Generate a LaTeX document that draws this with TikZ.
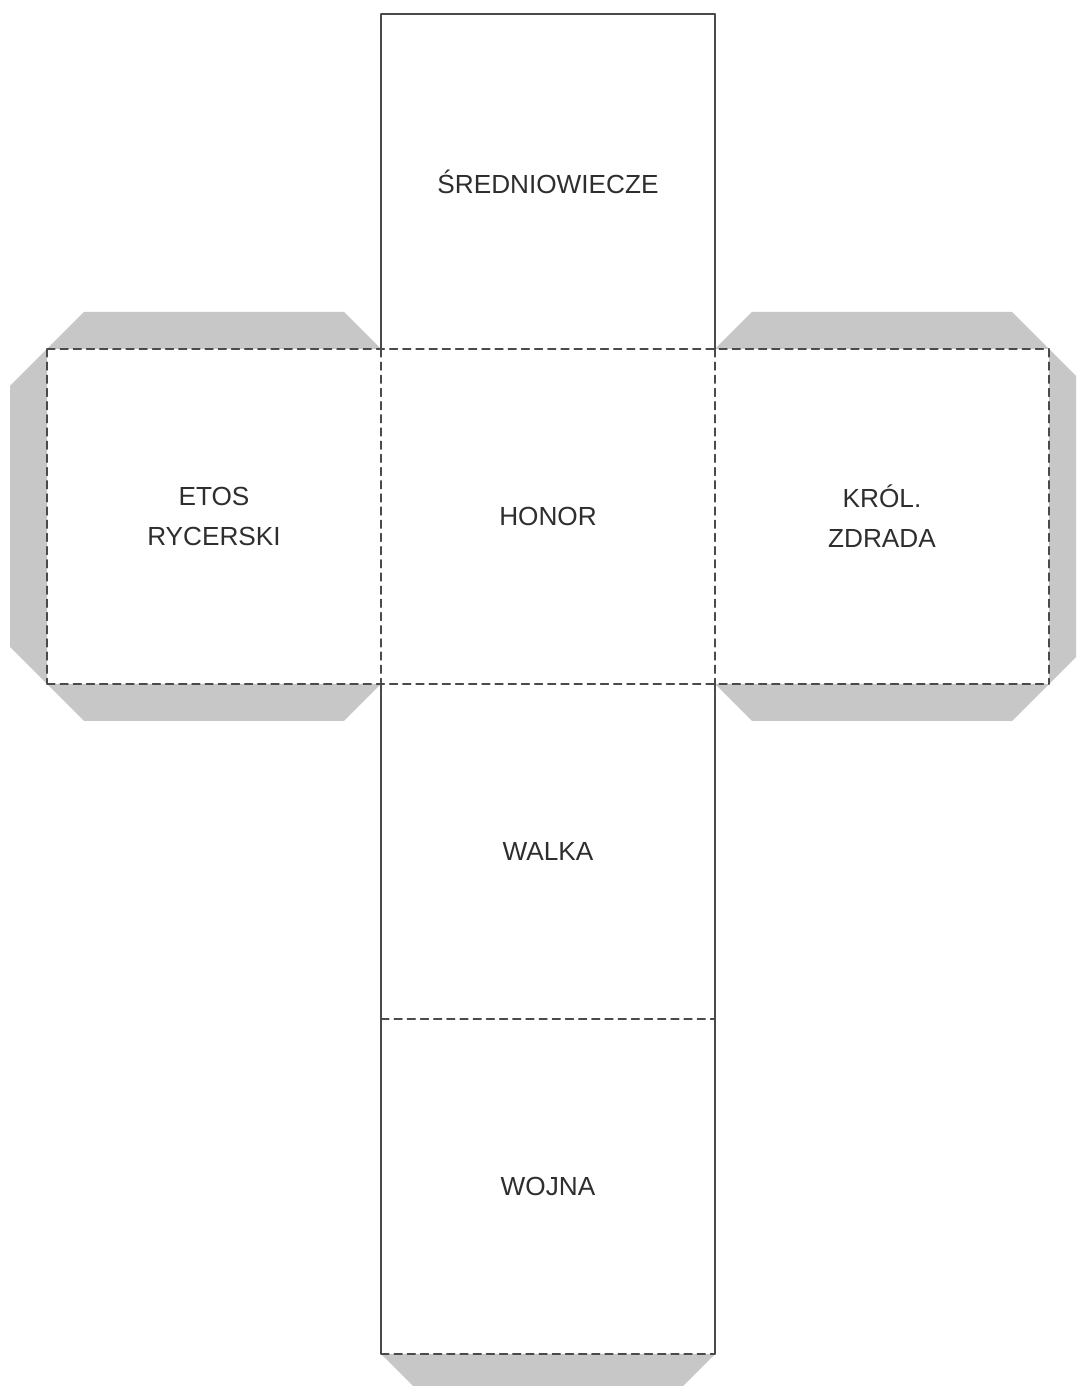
\documentclass[tikz,border=0pt]{standalone}
\usepackage{fontspec}
\setmainfont{Liberation Sans}
\usepackage{tikz}
\usepackage{tkz-euclide}
\usepackage{xcolor}

\definecolor{tabgray}{HTML}{C6C7C6}
\definecolor{edgegray}{HTML}{4A4A4A}
\tikzset{
  cutline/.style={draw=edgegray,line width=0.75pt,solid},
  foldline/.style={draw=edgegray,line width=0.75pt,dash pattern=on 4.5pt off 3pt},
  facelabel/.style={align=center,text=black!82,inner sep=0pt,
    font=\fontsize{14.9}{22.8}\selectfont}
}

\begin{document}
\begin{tikzpicture}
    \clip (0,0) rectangle (21.52,27.72);
    \useasboundingbox (0,0) rectangle (21.52,27.72);
    \tkzDefPoints{7.62/27.44/T,14.30/27.44/U}
    \tkzDefPoints{0.94/20.74/A,7.62/20.74/B,14.30/20.74/C,20.98/20.74/D}
    \tkzDefPoints{0.94/14.04/E,7.62/14.04/F,14.30/14.04/G,20.98/14.04/H}
    \tkzDefPoints{7.62/7.34/I,14.30/7.34/J,7.62/0.64/K,14.30/0.64/L}
    % glue tabs
    \tkzDefPoints{1.68/21.48/a1,6.88/21.48/a2,1.68/13.30/b1,6.88/13.30/b2}
    \tkzDefPoints{0.20/20.00/c1,0.20/14.78/c2}
    \tkzDefPoints{15.04/21.48/d1,20.24/21.48/d2,15.04/13.30/e1,20.24/13.30/e2}
    \tkzDefPoints{21.72/20.00/f1,21.72/14.78/f2}
    \tkzDefPoints{8.36/-0.10/g1,13.56/-0.10/g2}
    \tkzFillPolygon[color=tabgray](A,a1,a2,B)
    \tkzFillPolygon[color=tabgray](E,b1,b2,F)
    \tkzFillPolygon[color=tabgray](A,c1,c2,E)
    \tkzFillPolygon[color=tabgray](C,d1,d2,D)
    \tkzFillPolygon[color=tabgray](G,e1,e2,H)
    \tkzFillPolygon[color=tabgray](D,f1,f2,H)
    \tkzFillPolygon[color=tabgray](K,g1,g2,L)
    % edges
    \tkzDrawSegments[foldline](A,D E,H A,E D,H B,F C,G I,J K,L)
    \tkzDrawSegments[cutline](T,U T,B U,C F,K G,L)
    % face centres
    \tkzDefMidPoint(T,C) \tkzGetPoint{M1}
    \tkzDefMidPoint(A,F) \tkzGetPoint{M2}
    \tkzDefMidPoint(B,G) \tkzGetPoint{M3}
    \tkzDefMidPoint(C,H) \tkzGetPoint{M4}
    \tkzDefMidPoint(F,J) \tkzGetPoint{M5}
    \tkzDefMidPoint(I,L) \tkzGetPoint{M6}
    \node[facelabel] (sredniowiecze) at (M1) {ŚREDNIOWIECZE};
    \node[facelabel] (etos) at (M2) {ETOS\\RYCERSKI};
    \node[facelabel] (honor) at (M3) {HONOR};
    \node[facelabel] (krol) at (M4) {KRÓL.\\ZDRADA};
    \node[facelabel] (walka) at (M5) {WALKA};
    \node[facelabel] (wojna) at (M6) {WOJNA};
\end{tikzpicture}
\end{document}
